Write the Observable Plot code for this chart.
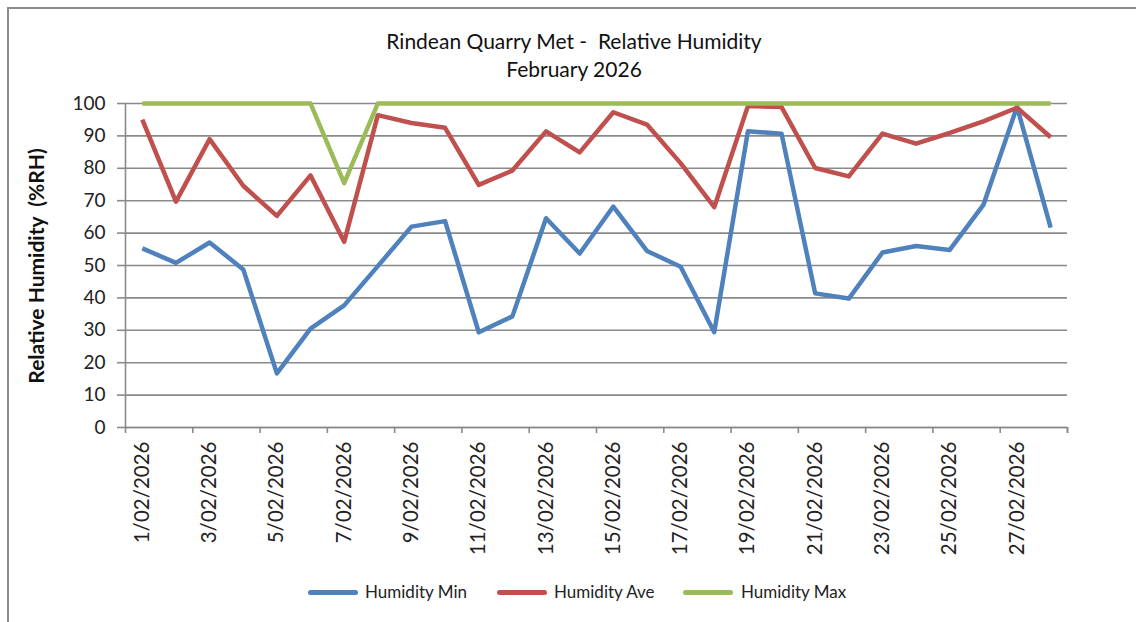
<!DOCTYPE html>
<html>
<head>
<meta charset="utf-8">
<script src="https://cdn.jsdelivr.net/npm/d3@7"></script>
<script src="https://cdn.jsdelivr.net/npm/@observablehq/plot@0.6"></script>
<style>
  html, body { margin: 0; padding: 0; background: #fff; }
  body { width: 1136px; height: 622px; overflow: hidden; font-family: Lato, "Open Sans", sans-serif; }
  #wrap { position: relative; width: 1136px; height: 622px; }
  #frame { position: absolute; left: 7px; top: 7px; width: 1150px; height: 640px; border: 2px solid #8c8c8c; box-sizing: border-box; }
  #title { position: absolute; left: 354px; width: 440px; top: 27px; text-align: center; font-size: 21px; line-height: 28px; color: #111; white-space: pre; }
  #ytitle { position: absolute; left: 35px; top: 266px; transform: translate(-50%, -50%) rotate(-90deg); font-weight: bold; font-size: 21px; color: #111; white-space: pre; }
  #legend { position: absolute; top: 580px; left: 0; height: 24px; font-size: 17px; color: #222; }
  .item { position: absolute; top: 0; white-space: nowrap; line-height: 24px; }
  .sw { position: absolute; top: 10px; height: 5px; border-radius: 3px; }
  svg { position: absolute; left: 0; top: 0; }
</style>
</head>
<body>
<div id="wrap">
  <div id="frame"></div>
  <div id="title"></div>
  <div id="ytitle"></div>
  <div id="chart"></div>
  <div id="legend"></div>
</div>
<script>
const titleLines = ["Rindean Quarry Met -  Relative Humidity", "February 2026"];
const yTitle = "Relative Humidity  (%RH)";
const days = d3.range(1, 29);
const humidityMin = [55.3, 50.8, 57.1, 48.8, 16.7, 30.5, 37.7, 49.8, 62.0, 63.7, 29.4, 34.3, 64.6, 53.7, 68.2, 54.5, 49.6, 29.4, 91.4, 90.7, 41.4, 39.8, 54.0, 56.0, 54.8, 68.7, 99.0, 61.7];
const humidityAve = [95.0, 69.7, 89.0, 74.6, 65.3, 77.8, 57.3, 96.4, 94.0, 92.5, 74.9, 79.3, 91.4, 84.9, 97.3, 93.5, 81.6, 68.0, 99.2, 98.9, 80.1, 77.5, 90.7, 87.6, 90.9, 94.5, 98.7, 89.6];
const humidityMax = [100, 100, 100, 100, 100, 100, 75.4, 100, 100, 100, 100, 100, 100, 100, 100, 100, 100, 100, 100, 100, 100, 100, 100, 100, 100, 100, 100, 100];
const seriesNames = ["Humidity Min", "Humidity Ave", "Humidity Max"];
const seriesColors = ["#4F81BD", "#C0504D", "#9BBB59"];
const yTicks = d3.range(0, 101, 10);
const labelDays = d3.range(1, 29, 2);
const tickBounds = d3.range(0.5, 29, 2).concat([28.5]);
const dateLabel = d => `${d}/02/2026`;

document.getElementById("title").textContent = titleLines.join("\n");
document.getElementById("ytitle").textContent = yTitle;

const seriesValues = [humidityMin, humidityAve, humidityMax];
const rows = [];
seriesNames.forEach((name, s) => days.forEach((d, i) => rows.push({series: name, day: d, value: seriesValues[s][i]})));

const fontFamily = "Lato, 'Open Sans', sans-serif";
const chart = Plot.plot({
  width: 1136,
  height: 622,
  marginLeft: 125,
  marginRight: 69,
  marginTop: 103,
  marginBottom: 195,
  style: {fontFamily, color: "#222", background: "transparent", overflow: "visible"},
  x: {type: "linear", domain: [0.5, 28.5]},
  y: {domain: [0, 100]},
  color: {domain: seriesNames, range: seriesColors},
  marks: [
    Plot.gridY(yTicks, {stroke: "#8a8a8a", strokeOpacity: 1, strokeWidth: 1.6}),
    Plot.axisY(yTicks, {tickSize: 8, tickPadding: 12, fontSize: 19, stroke: "#8a8a8a", strokeWidth: 1.6, label: null, tickFormat: d => String(d), fill: "#222"}),
    Plot.axisX(tickBounds, {tickSize: 6, tickFormat: () => "", stroke: "#8a8a8a", strokeWidth: 1.6, label: null}),
    Plot.axisX(labelDays, {tickSize: 0, tickPadding: 14, tickRotate: -90, fontSize: 20.5, tickFormat: dateLabel, label: null, fill: "#222"}),
    Plot.ruleX([0.5], {stroke: "#8a8a8a", strokeWidth: 1.6}),
    Plot.ruleY([0], {stroke: "#8a8a8a", strokeWidth: 1.6}),
    Plot.line(rows, {x: "day", y: "value", z: "series", stroke: "series", strokeWidth: 4.5, strokeLinejoin: "round", strokeLinecap: "butt"})
  ]
});
document.getElementById("chart").appendChild(chart);

const legendPos = [[308, 365], [497, 554], [683, 741]];
const legend = document.getElementById("legend");
seriesNames.forEach((name, i) => {
  const sw = document.createElement("div");
  sw.className = "sw";
  sw.style.left = legendPos[i][0] + "px";
  sw.style.width = "50px";
  sw.style.background = seriesColors[i];
  legend.appendChild(sw);
  const t = document.createElement("div");
  t.className = "item";
  t.style.left = legendPos[i][1] + "px";
  t.textContent = name;
  legend.appendChild(t);
});
</script>
</body>
</html>
